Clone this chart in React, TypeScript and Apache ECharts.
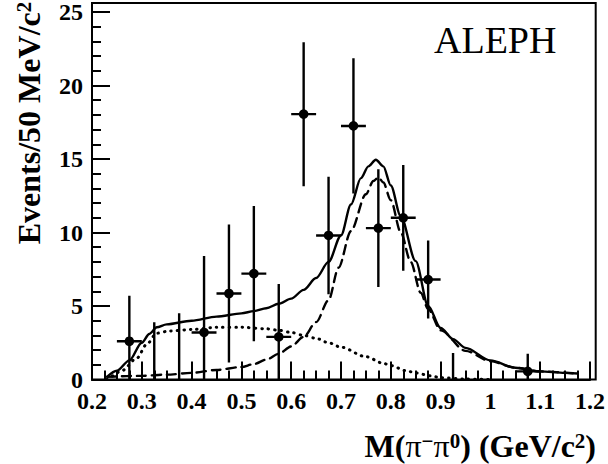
import React, { useEffect, useRef } from "react";
import * as echarts from "echarts";

// Data points (bin centre, events, symmetric error)
const binCenters = [0.275, 0.325, 0.375, 0.425, 0.475, 0.525, 0.575, 0.625, 0.675, 0.725, 0.775, 0.825, 0.875, 0.925, 1.075];
const binValues = [2.6, -1.0, -0.5, 3.2, 5.85, 7.2, 2.9, 18.05, 9.8, 17.25, 10.3, 11.0, 6.8, -0.6, 0.55];
const binErrors = [3.1, 4.9, 5.0, 5.2, 4.7, 4.6, 3.6, 4.9, 4.0, 4.6, 4.0, 3.6, 2.65, 2.4, 1.2];
const binHalfWidth = 0.025;

// Fit curves
const totalX = [0.23, 0.25, 0.275, 0.3, 0.315, 0.33, 0.35, 0.4, 0.45, 0.5, 0.525, 0.55, 0.575, 0.6, 0.625, 0.65, 0.675, 0.7, 0.72, 0.74, 0.755, 0.77, 0.785, 0.8, 0.82, 0.85, 0.875, 0.9, 0.925, 0.95, 1.0, 1.05, 1.1, 1.15, 1.175];
const totalY = [0.18, 0.6, 1.3, 2.5, 3.1, 3.55, 3.75, 4.0, 4.28, 4.5, 4.65, 4.85, 5.15, 5.5, 6.1, 6.9, 8.0, 9.8, 11.9, 13.7, 14.5, 14.95, 14.5, 13.2, 11.1, 8.05, 5.0, 3.5, 2.75, 2.15, 1.3, 0.8, 0.55, 0.45, 0.41];

const rhoX = [0.23, 0.3, 0.35, 0.4, 0.45, 0.5, 0.525, 0.55, 0.575, 0.6, 0.625, 0.65, 0.675, 0.695, 0.72, 0.75, 0.765, 0.775, 0.785, 0.8, 0.82, 0.84, 0.86, 0.875, 0.9, 0.95, 1.0, 1.05, 1.1, 1.175];
const rhoY = [0.18, 0.25, 0.33, 0.45, 0.65, 0.85, 1.05, 1.35, 1.75, 2.25, 2.9, 3.9, 5.4, 7.6, 10.1, 12.6, 13.5, 13.75, 13.4, 12.2, 10.0, 8.0, 5.9, 4.8, 3.35, 1.95, 1.25, 0.8, 0.55, 0.4];

const bkgX = [0.23, 0.236, 0.26, 0.29, 0.31, 0.33, 0.355, 0.4, 0.45, 0.5, 0.55, 0.575, 0.6, 0.625, 0.65, 0.675, 0.7, 0.75, 0.785, 0.8, 0.83, 0.85, 0.88, 0.9, 0.95, 1.0];
const bkgY = [0.0, 0.18, 0.6, 1.45, 2.4, 3.15, 3.3, 3.4, 3.55, 3.55, 3.45, 3.35, 3.2, 3.0, 2.8, 2.5, 2.2, 1.55, 1.1, 0.95, 0.6, 0.45, 0.25, 0.12, 0.03, 0.0];

const xMin = 0.2;
const xMax = 1.2;
const xStep = 0.1;
const yMin = 0;
const yMax = 25;
const yStep = 5;

const zip = (xs: number[], ys: number[]) => xs.map((x, i) => [x, ys[i]]);

const FONT = "'Liberation Serif', 'Times New Roman', serif";

export default function App() {
  const ref = useRef<HTMLDivElement>(null);
  useEffect(() => {
    const chart = echarts.init(ref.current!, null, { renderer: "svg" });
    const gridLeft = 92;
    const gridRight = 12.3;
    const gridTop = 9;
    const gridBottom = 84.5;
    const axisCommon = {
      axisLine: { show: true, lineStyle: { color: "#000", width: 2 } },
      axisTick: { show: true, inside: true, length: 18, lineStyle: { color: "#000", width: 2 } },
      minorTick: { show: true, length: 9, lineStyle: { color: "#000", width: 2 } },
      splitLine: { show: false },
      axisLabel: { color: "#000", fontFamily: FONT, fontWeight: "bold", fontSize: 24, margin: 9 },
    };
    const lineSeries = (data: number[][], type: any, width: number, z: number) => ({
      type: "line",
      data,
      showSymbol: false,
      symbol: "none",
      smooth: 0.3,
      smoothMonotone: "x",
      clip: true,
      z,
      lineStyle: { color: "#000", width, type, cap: type === "solid" ? "butt" : "round" },
      silent: true,
    });
    chart.setOption({
      animation: false,
      backgroundColor: "#fff",
      grid: { left: gridLeft, right: gridRight, top: gridTop, bottom: gridBottom },
      xAxis: {
        type: "value",
        min: xMin,
        max: xMax,
        interval: xStep,
        ...axisCommon,
        minorTick: { ...axisCommon.minorTick, splitNumber: 4 },
      },
      yAxis: {
        type: "value",
        min: yMin,
        max: yMax,
        interval: yStep,
        ...axisCommon,
        minorTick: { ...axisCommon.minorTick, splitNumber: 5 },
      },
      series: [
        lineSeries(zip(bkgX, bkgY), [0.5, 6], 3, 2),
        lineSeries(zip(rhoX, rhoY), [9, 6], 2.4, 3),
        lineSeries(zip(totalX, totalY), "solid", 2.4, 4),
        {
          type: "custom",
          clip: true,
          z: 5,
          silent: true,
          data: binCenters.map((x, i) => [x, binValues[i], binErrors[i]]),
          renderItem: (params: any, api: any) => {
            const x = api.value(0);
            const y = api.value(1);
            const e = api.value(2);
            const c = api.coord([x, y]);
            const t = api.coord([x, y + e]);
            const b = api.coord([x, y - e]);
            const l = api.coord([x - binHalfWidth, y]);
            const r = api.coord([x + binHalfWidth, y]);
            const st = { stroke: "#000", lineWidth: 2.4 };
            return {
              type: "group",
              children: [
                { type: "line", shape: { x1: t[0], y1: t[1], x2: b[0], y2: b[1] }, style: st },
                { type: "line", shape: { x1: l[0], y1: l[1], x2: r[0], y2: r[1] }, style: st },
                { type: "circle", shape: { cx: c[0], cy: c[1], r: 4.8 }, style: { fill: "#000" } },
              ],
            };
          },
        },
      ],
      graphic: [
        {
          type: "rect",
          shape: { x: gridLeft, y: 3, width: 608 - gridLeft - gridRight, height: 464 - gridBottom - 3 },
          style: { fill: "none", stroke: "#000", lineWidth: 2 },
          z: 10,
          silent: true,
        },
        {
          type: "text",
          x: 434,
          y: 59,
          style: {
            text: "ALEPH",
            fill: "#000",
            font: `38px ${FONT}`,
            textAlign: "left",
            textVerticalAlign: "bottom",
          },
          z: 10,
        },
        {
          type: "text",
          x: 29,
          y: 123,
          rotation: Math.PI / 2,
          style: {
            text: "{a|Events/50 MeV/c}{s|2}",
            textAlign: "center",
            textVerticalAlign: "middle",
            fill: "#000",
            rich: {
              a: { fontFamily: FONT, fontWeight: "bold", fontSize: 32, fill: "#000", verticalAlign: "bottom" },
              s: { fontFamily: FONT, fontWeight: "bold", fontSize: 21, fill: "#000", verticalAlign: "top" },
            },
          },
          z: 10,
        },
        {
          type: "text",
          x: 596,
          y: 446,
          style: {
            text: "{a|M(}{p|π}{s|−}{p|π}{s|0}{a|) (GeV/c}{s|2}{a|)}",
            textAlign: "right",
            textVerticalAlign: "middle",
            fill: "#000",
            rich: {
              a: { fontFamily: FONT, fontWeight: "bold", fontSize: 32, fill: "#000", verticalAlign: "bottom" },
              p: { fontFamily: FONT, fontWeight: "normal", fontSize: 32, fill: "#000", verticalAlign: "bottom" },
              s: { fontFamily: FONT, fontWeight: "bold", fontSize: 21, fill: "#000", verticalAlign: "top" },
            },
          },
          z: 10,
        },
      ],
    });
    return () => chart.dispose();
  }, []);
  return (
    <div
      ref={ref}
      style={{ position: "fixed", left: 0, top: 0, width: 608, height: 464, background: "#fff" }}
    />
  );
}
